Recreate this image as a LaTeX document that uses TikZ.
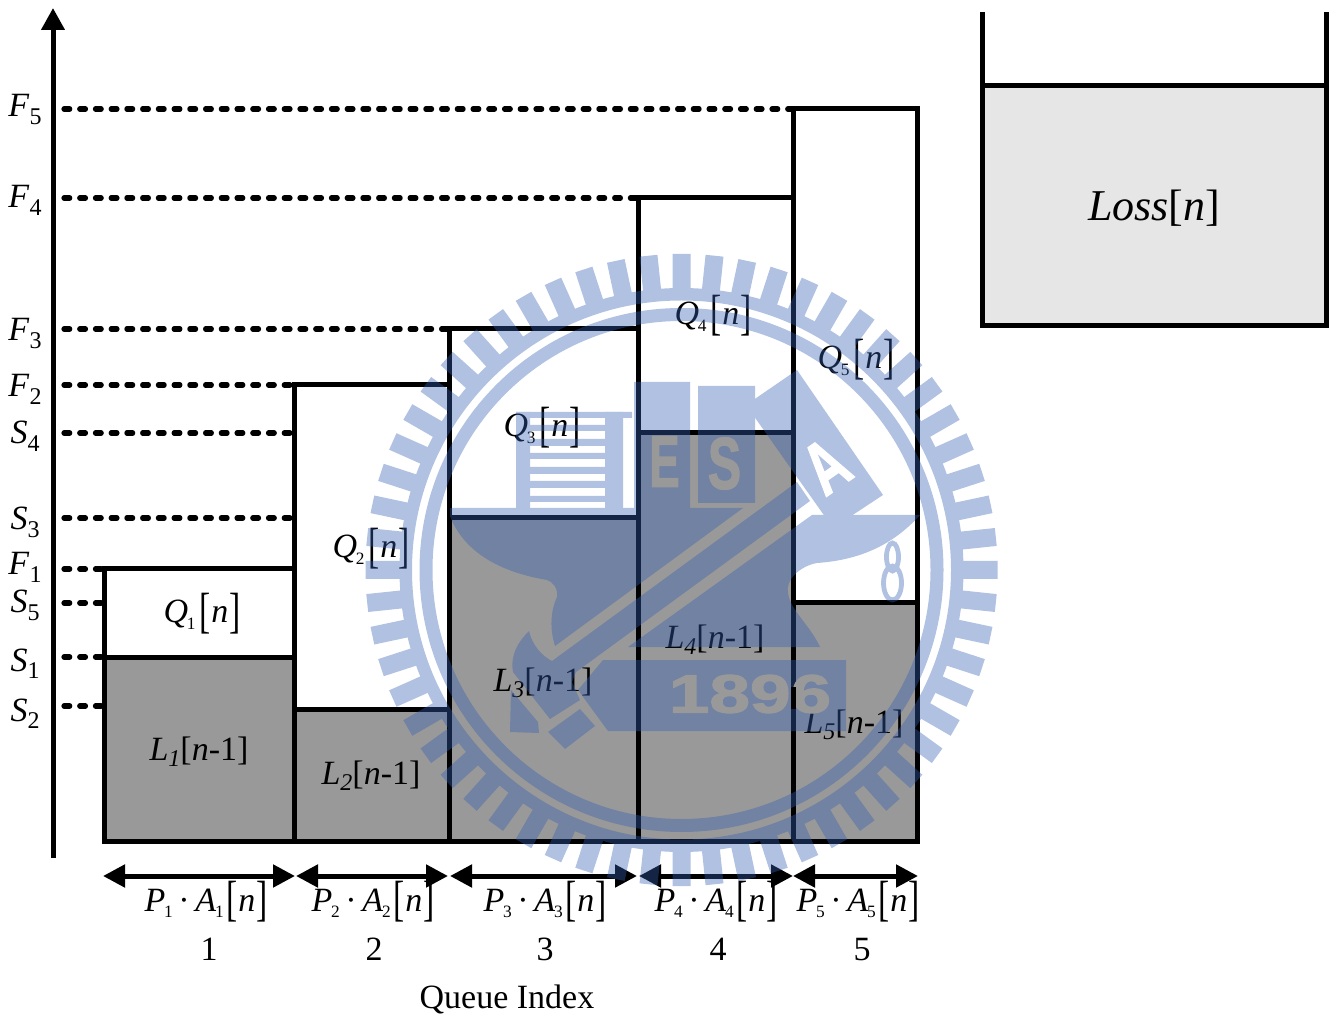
\documentclass[tikz,border=0pt]{standalone}
\usepackage{fontspec}
\usepackage{graphicx}
\setmainfont{Liberation Serif}
\newfontfamily\logofont{Liberation Sans}[BoldFeatures={FakeBold=2}]
\usetikzlibrary{arrows.meta}

\definecolor{queuegray}{HTML}{999999}
\definecolor{lossgray}{HTML}{E6E6E6}
\definecolor{logoblue}{RGB}{54,95,180}

\newcommand{\levlab}[2]{\textit{#1}\raisebox{-0.22em}{\fontsize{18pt}{18pt}\selectfont #2}}
\newcommand{\tallbr}[1]{\raisebox{-3.2pt}{\scalebox{.72}[1.06]{\fontsize{35pt}{35pt}\selectfont #1}}}
\newcommand{\smsub}[1]{\raisebox{-0.2em}{\fontsize{13pt}{13pt}\selectfont #1}}
\newcommand{\qlab}[1]{\textit{Q}\hspace{-1pt}\smsub{#1}\hspace{3pt}\tallbr{[}\hspace{.6pt}\textit{n}\hspace{.6pt}\tallbr{]}}
\newcommand{\llab}[1]{\textit{L}\raisebox{-0.2em}{\fontsize{18pt}{18pt}\selectfont\textit{#1}}[\textit{n}-1]}
\newcommand{\palab}[1]{\textit{P}\hspace{-1pt}\smsub{#1}\,·\,\textit{A}\hspace{-1pt}\smsub{#1}\hspace{2pt}\tallbr{[}\hspace{.6pt}\textit{n}\hspace{.6pt}\tallbr{]}}

\tikzset{
  barline/.style={line width=3.75pt, line join=miter},
  levelline/.style={line width=3.9pt, line cap=round, dash pattern=on 4.3pt off 7.5pt},
  widtharrow/.style={line width=3.75pt, <->},
  lab/.style={anchor=base, inner sep=0pt, font=\fontsize{25.5pt}{25.5pt}\selectfont},
  logofill/.style={fill=logoblue, draw=none},
  logotext/.style={inner sep=0pt, font=\logofont\bfseries\fontsize{55pt}{55pt}\selectfont},
}

\begin{document}
\begin{tikzpicture}[x=0.75pt, y=-0.75pt, >={Triangle[length=16.5pt, width=16.5pt]}]
  \useasboundingbox (0,0) rectangle (1332,1019);

  % queue bars
  \foreach \xl/\xr/\yf/\ys in {104/294/569/657, 294/449/385/709, 449/638/329/518, 638/793/198/433, 793/917/109/603} {
    \fill[queuegray] (\xl,\ys) rectangle (\xr,841);
    \draw[barline] (\xl,\yf) rectangle (\xr,841);
    \draw[barline] (\xl,\ys) -- (\xr,\ys);
  }

  % axis
  \coordinate (axb) at (53,858);
  \coordinate (axt) at (53,8);
  \draw[line width=3.75pt, ->, >={Triangle[length=16.5pt, width=17pt]}] (axb) -- (axt);

  % levels
  \foreach \nm/\sb/\lev/\xe/\by in {F/5/109/793/117, F/4/198/638/208, F/3/329/449/341, F/2/385/294/397,
      S/4/433/294/444, S/3/518/294/530, F/1/569/104/575, S/5/603/104/613, S/1/657/104/671, S/2/706/104/721} {
    \coordinate (a\nm\sb) at (64,\lev);
    \coordinate (e\nm\sb) at (\xe,\lev);
    \draw[levelline] (a\nm\sb) -- (e\nm\sb);
    \node[lab] (l\nm\sb) at (25,\by) {\levlab{\nm}{\sb}};
  }

  % bar texts
  \foreach \num/\cx/\by in {1/202/623, 2/371/558, 3/542/437, 4/713/325, 5/856/369} {
    \node[lab] (q\num) at (\cx,\by) {\qlab{\num}};
  }
  \foreach \num/\cx/\by in {1/199/760, 2/371/784, 3/543/691, 4/715/648, 5/854/733} {
    \node[lab] (l\num) at (\cx,\by) {\llab{\num}};
  }

  % width arrows
  \foreach \num/\xa/\xb/\cx/\ix in {1/103/295/206/209, 2/296/448/373/374, 3/450/637/545/545, 4/639/793/716/718, 5/793/918/858/862} {
    \coordinate (wa\num) at (\xa,876);
    \coordinate (wb\num) at (\xb,876);
    \draw[widtharrow] (wa\num) -- (wb\num);
    \node[lab] (p\num) at (\cx,911) {\palab{\num}};
    \node[lab] (i\num) at (\ix,960) {\num};
  }
  \node[lab] (qidx) at (507,1008) {Queue Index};

  % loss tank
  \fill[lossgray] (982,86) rectangle (1326,326);
  \draw[barline] (982,12) -- (982,326) -- (1326,326) -- (1326,12);
  \draw[barline] (982,86) -- (1326,86);
  \node[lab, font=\fontsize{33pt}{33pt}\selectfont] (loss) at (1154,221) {\textit{Loss}[\textit{n}]};

  % watermark
  \begin{scope}[transparency group, opacity=0.39]
    \foreach \a in {0,6,...,354} {
      \draw[logoblue, line width=13.5pt] ([shift={(681.5,570)}]\a:275) -- ([shift={(681.5,570)}]\a:316);
    }
    \fill[logofill, even odd rule] (681.5,570) circle (282) circle (269.5);
    \fill[logofill, even odd rule] (681.5,570) circle (262) circle (249);
    % ladder
    \fill[logofill] (516,412) rectangle (632,418);
    \fill[logofill] (516,412) rectangle (530,510);
    \fill[logofill] (605,412) rectangle (623,510);
    \foreach \ya/\yb in {425/431, 439/446, 453/459, 467/474, 481/488, 496/502} {
      \fill[logofill] (530,\ya) rectangle (605,\yb);
    }
    % blocks
    \fill[logofill] (634,382) rectangle (690,508);
    \fill[logofill] (698,386) rectangle (755,503);
    \fill[logofill] (746,405) -- (797,370) -- (883,495) -- (833,528) -- cycle;
    % anvil top
    \fill[logofill] (450,508) -- (743,508) -- (555,646)
      .. controls (550,630) and (550,612) .. (557,597)
      .. controls (558,588) and (553,582) .. (547,580)
      .. controls (505,573) and (465,555) .. (450,516) -- cycle;
    % anvil foot
    \fill[logofill] (812,515) -- (920,515)
      .. controls (893,545) and (860,560) .. (817,563)
      .. controls (800,566) and (785,580) .. (788,593)
      .. controls (790,610) and (810,625) .. (820,647)
      -- (628,647) -- cycle;
    % hammer
    \fill[logofill] (529,631) .. controls (532,645) and (542,656) .. (552,661)
      -- (797,482) -- (810,501) -- (576,672) -- (572,682) -- (580,700) -- (550,719) -- (513,672)
      .. controls (510,655) and (518,642) .. (529,631) -- cycle;
    \fill[logofill] (511,690) -- (538,722) -- (539,733) -- (510,732) -- cycle;
    \fill[logofill] (548,732) -- (580,709) -- (595,726) -- (565,749) -- cycle;
    \fill[logofill] (603,660) -- (846,660) -- (846,731) -- (608,731) -- (578,690) -- cycle;
    \draw[logoblue, line width=3.6pt] (892.5,557) ellipse (6 and 14);
    \draw[logoblue, line width=3.6pt] (892.5,583) ellipse (9 and 17);
  \end{scope}

  % letters of the watermark
  \node[logotext, text=queuegray] (ltE) at (664.5,461.5) {\scalebox{.62}[1]{E}};
  \node[logotext, text=queuegray] (ltS) at (724.5,463.5) {\scalebox{.68}[1]{S}};
  \node[logotext, text=white, rotate=35] (ltA) at (826,466) {\scalebox{.7}[1]{A}};
  \node[logotext, text=queuegray, font=\logofont\bfseries\fontsize{40.5pt}{40.5pt}\selectfont] (ltN) at (750,694) {\scalebox{1.35}[1]{1896}};
  \coordinate (sixa) at (793,687);
  \coordinate (sixb) at (793,709);
  \draw[barline] (sixa) -- (sixb);
\end{tikzpicture}
\end{document}
